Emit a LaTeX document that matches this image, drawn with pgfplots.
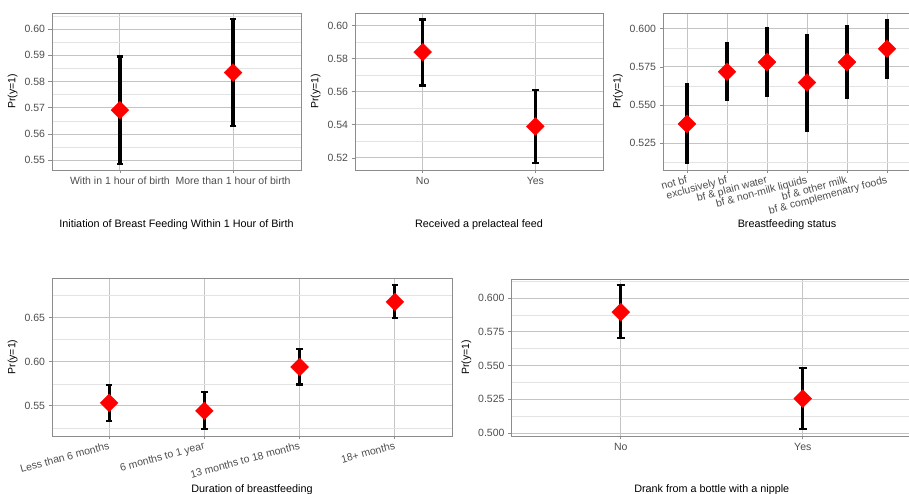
\documentclass[border=0pt]{standalone}
\usepackage{fontspec}
\setmainfont{Liberation Sans}
\usepackage{pgfplots}
\usepackage{pgfplotstable}
\pgfplotsset{compat=1.18}
\definecolor{tickgray}{HTML}{4D4D4D}
\definecolor{framegray}{HTML}{8C8C8C}
\definecolor{majgrid}{HTML}{C4C4C4}
\definecolor{mingrid}{HTML}{E3E3E3}

\pgfplotstableread{
x y lo hi
1 0.5691 0.5487 0.5895
2 0.5834 0.5631 0.6037
}\tabA
\pgfplotstableread{
x y lo hi
1 0.5839 0.5637 0.6036
2 0.5390 0.5168 0.5612
}\tabB
\pgfplotstableread{
x y lo hi
1 0.5377 0.5114 0.5644
2 0.5718 0.5528 0.5910
3 0.5781 0.5556 0.6009
4 0.5648 0.5326 0.5965
5 0.5781 0.5541 0.6026
6 0.5869 0.5674 0.6066
}\tabC
\pgfplotstableread{
x y lo hi
1 0.5534 0.5330 0.5739
2 0.5443 0.5235 0.5656
3 0.5940 0.5743 0.6144
4 0.6678 0.6493 0.6868
}\tabD
\pgfplotstableread{
x y lo hi
1 0.5896 0.5701 0.6095
2 0.5255 0.5027 0.5483
}\tabE

\pgfplotsset{
  mystyle/.style={
    scale only axis, anchor=south west,
    axis line style={draw=framegray, line width=0.8pt},
    tick align=outside, tick pos=left,
    major tick length=3.5pt, minor tick length=0pt,
    tick style={framegray, line width=0.8pt},
    xmajorgrids, ymajorgrids, yminorgrids,
    major grid style={majgrid, line width=0.9pt},
    minor grid style={mingrid, line width=0.6pt},
    ticklabel style={font=\fontsize{10.5}{12}\selectfont, text=tickgray},
    ylabel={Pr(y=1)},
    ylabel style={font=\fontsize{10.5}{12}\selectfont},
    xlabel style={font=\fontsize{10.8}{13}\selectfont, at={(axis description cs:0.5,0)}, anchor=center},
    /pgf/number format/assume math mode=true,
  },
  prec2/.style={yticklabel style={/pgf/number format/.cd, fixed, fixed zerofill, precision=2}},
  prec3/.style={yticklabel style={/pgf/number format/.cd, fixed, fixed zerofill, precision=3}},
  ebar/.style={draw=none, forget plot, error bars/.cd, y dir=both, y explicit,
    error bar style={draw=black, line width=3.2pt},
    error mark=|,
    error mark options={draw=black, line width=2.2pt, mark size=3.2pt}},
  ebarwide/.style={draw=none, forget plot, error bars/.cd, y dir=both, y explicit,
    error bar style={draw=black, line width=3.2pt},
    error mark=|,
    error mark options={draw=black, line width=2.2pt, mark size=4.2pt}},
  ebarnocap/.style={draw=none, forget plot, error bars/.cd, y dir=both, y explicit,
    error bar style={draw=black, line width=3.2pt}, error mark=none},
  dmd/.style={only marks, mark=square*, mark size=6.3pt, mark options={rotate=45, fill=red, draw=red}},
}

\begin{document}
\begin{tikzpicture}[x=1pt,y=1pt]
\path[use as bounding box] (0,0) rectangle (909,494);

% Panel 1
\begin{axis}[mystyle, prec2, at={(52pt,324pt)}, width=249pt, height=157pt,
  xmin=0.4, xmax=2.6, ymin=0.5463, ymax=0.6061,
  xtick={1,2}, xticklabels={With in 1 hour of birth, More than 1 hour of birth},
  ytick={0.55,0.56,0.57,0.58,0.59,0.60},
  minor ytick={0.555,0.565,0.575,0.585,0.595,0.605},
  xlabel={Initiation of Breast Feeding Within 1 Hour of Birth},
  xlabel style={yshift=-55pt}]
\addplot[ebar] table[x=x, y=y, y error plus expr=\thisrow{hi}-\thisrow{y}, y error minus expr=\thisrow{y}-\thisrow{lo}] {\tabA};
\addplot[dmd] table[x=x, y=y] {\tabA};
\end{axis}

% Panel 2
\begin{axis}[mystyle, prec2, at={(355pt,324pt)}, width=248pt, height=157pt,
  xmin=0.4, xmax=2.6, ymin=0.5127, ymax=0.6075,
  xtick={1,2}, xticklabels={No, Yes},
  ytick={0.52,0.54,0.56,0.58,0.60},
  minor ytick={0.53,0.55,0.57,0.59},
  xlabel={Received a prelacteal feed},
  xlabel style={yshift=-55pt}]
\addplot[ebar] table[x=x, y=y, y error plus expr=\thisrow{hi}-\thisrow{y}, y error minus expr=\thisrow{y}-\thisrow{lo}] {\tabB};
\addplot[dmd] table[x=x, y=y] {\tabB};
\end{axis}

% Panel 3
\begin{axis}[mystyle, prec3, at={(663pt,324pt)}, width=248pt, height=157pt,
  xmin=0.4, xmax=6.6, ymin=0.5075, ymax=0.6103,
  xtick={1,2,3,4,5,6},
  xticklabels={not bf, exclusively bf, bf \& plain water, bf \& non-milk liquids, bf \& other milk, bf \& complemenatry foods},
  xticklabel style={rotate=15, anchor=north east, inner sep=1.5pt},
  ytick={0.525,0.55,0.575,0.6},
  minor ytick={0.5125,0.5375,0.5625,0.5875},
  xlabel={Breastfeeding status},
  xlabel style={yshift=-55pt}]
\addplot[ebarnocap] table[x=x, y=y, y error plus expr=\thisrow{hi}-\thisrow{y}, y error minus expr=\thisrow{y}-\thisrow{lo}] {\tabC};
\addplot[dmd] table[x=x, y=y] {\tabC};
\end{axis}

% Panel 4
\begin{axis}[mystyle, prec2, at={(52pt,58pt)}, width=400pt, height=158pt,
  xmin=0.4, xmax=4.6, ymin=0.5159, ymax=0.6948,
  xtick={1,2,3,4},
  xticklabels={Less than 6 months, 6 months to 1 year, 13 months to 18 months, 18+ months},
  xticklabel style={rotate=15, anchor=north east, inner sep=1.5pt},
  ytick={0.55,0.60,0.65},
  minor ytick={0.525,0.575,0.625,0.675},
  xlabel={Duration of breastfeeding},
  xlabel style={yshift=-54pt}]
\addplot[ebar] table[x=x, y=y, y error plus expr=\thisrow{hi}-\thisrow{y}, y error minus expr=\thisrow{y}-\thisrow{lo}] {\tabD};
\addplot[dmd] table[x=x, y=y] {\tabD};
\end{axis}

% Panel 5
\begin{axis}[mystyle, prec3, at={(511.5pt,58pt)}, width=400.5pt, height=157pt,
  xmin=0.4, xmax=2.6, ymin=0.4978, ymax=0.6141,
  xtick={1,2}, xticklabels={No, Yes},
  ytick={0.5,0.525,0.55,0.575,0.6},
  minor ytick={0.5125,0.5375,0.5625,0.5875,0.6125},
  xlabel={Drank from a bottle with a nipple},
  xlabel style={yshift=-54pt}]
\addplot[ebarwide] table[x=x, y=y, y error plus expr=\thisrow{hi}-\thisrow{y}, y error minus expr=\thisrow{y}-\thisrow{lo}] {\tabE};
\addplot[dmd] table[x=x, y=y] {\tabE};
\end{axis}
\end{tikzpicture}
\end{document}
